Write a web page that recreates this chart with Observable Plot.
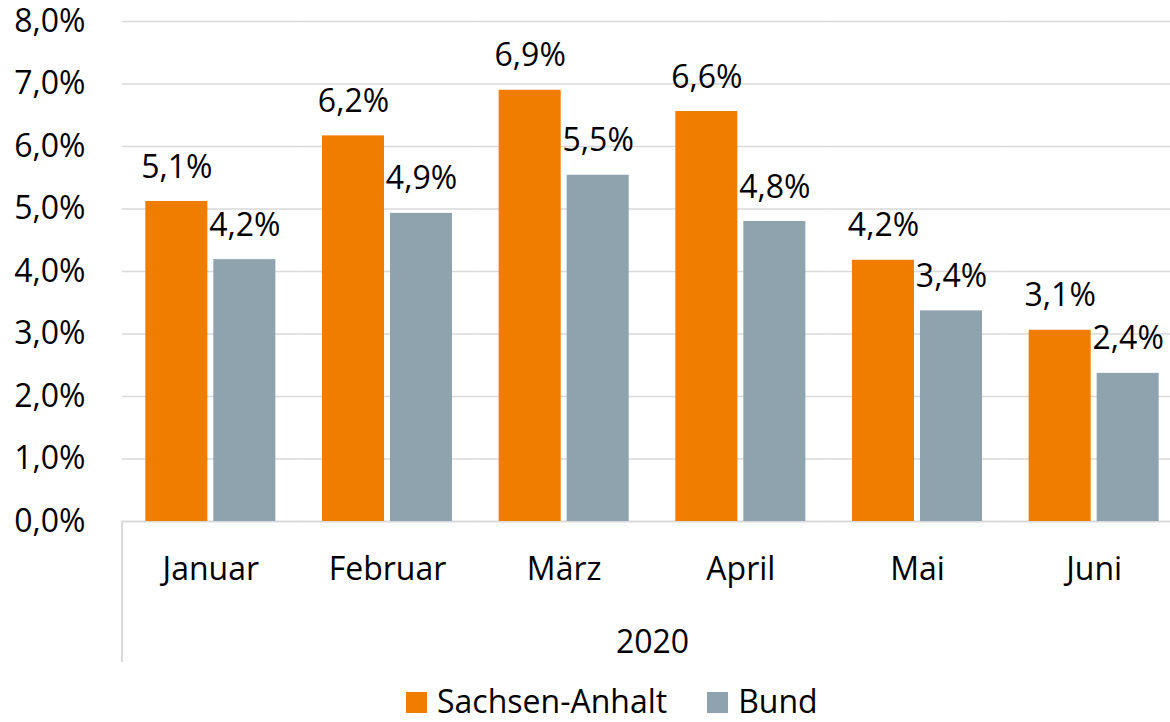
<!DOCTYPE html>
<html>
<head>
<meta charset="utf-8">
<script src="https://cdn.jsdelivr.net/npm/d3@7"></script>
<script src="https://cdn.jsdelivr.net/npm/@observablehq/plot@0.6"></script>
<style>
  html, body { margin: 0; padding: 0; background: #fff; overflow: hidden; }
  #chart { width: 1182px; height: 668px; padding-top: 4px; }
  #chart svg { overflow: visible; }
  .legend { display: flex; align-items: baseline; padding-left: 406px; margin-top: 13px;
            font-family: "Open Sans", sans-serif; font-size: 32px; line-height: 1; color: #000; }
  .legend .sw { width: 21px; height: 21px; display: inline-block; margin-right: 10px; }
  .legend .item { display: flex; align-items: baseline; margin-right: 40px; }
</style>
</head>
<body>
<div id="chart"></div>
<script>
const months = ["Januar", "Februar", "März", "April", "Mai", "Juni"];
const series = ["Sachsen-Anhalt", "Bund"];
const sachsenAnhalt = [5.12, 6.17, 6.90, 6.56, 4.18, 3.06];
const bund = [4.19, 4.93, 5.54, 4.80, 3.37, 2.37];
const yTicks = [0, 1, 2, 3, 4, 5, 6, 7, 8];
const yearLabel = "2020";
const colors = ["#F07D00", "#8FA3AF"];

const fmt = (d, digits) => d.toFixed(digits).replace(".", ",") + "%";

const data = [];
months.forEach((m, i) => {
  data.push({month: m, series: series[0], value: sachsenAnhalt[i]});
  data.push({month: m, series: series[1], value: bund[i]});
});

const plot = Plot.plot({
  width: 1182,
  height: 668,
  marginLeft: 122,
  marginRight: 0,
  marginTop: 17,
  marginBottom: 151,
  style: {fontFamily: "Open Sans, sans-serif", fontSize: "32px", color: "#000", background: "#fff", overflow: "visible"},
  fx: {domain: months, padding: 0, round: false, axis: "bottom", tickSize: 0, tickPadding: 36, label: null},
  x: {domain: series, paddingInner: 0.088, paddingOuter: 0.343, round: false, axis: null},
  y: {domain: [0, 8], ticks: yTicks, tickSize: 0, tickPadding: 37, tickFormat: d => fmt(d, 1), label: null},
  color: {domain: series, range: colors},
  marks: [
    Plot.ruleY(yTicks.filter(d => d > 0), {stroke: "#d9d9d9", strokeWidth: 1.5}),
    Plot.ruleY([0], {stroke: "#d9d9d9", strokeWidth: 2}),
    Plot.barY(data, {fx: "month", x: "series", y: "value", fill: "series"}),
    Plot.text(data, {fx: "month", x: "series", y: "value", text: d => fmt(d.value, 1),
      lineAnchor: "bottom", dy: -24, fontSize: 32, fill: "#000"}),
    Plot.text([{month: "März"}], {fx: "month", frameAnchor: "bottom-right", text: () => yearLabel,
      textAnchor: "middle", lineAnchor: "bottom", dy: 131, fontSize: 32, fill: "#000"})
  ]
});

// left boundary line of the category axis, positioned from the scales
const fxs = plot.scale("fx");
const ys = plot.scale("y");
const x0 = fxs.apply(months[0]);
const y0 = ys.apply(0);
d3.select(plot).append("line")
  .attr("x1", x0).attr("x2", x0)
  .attr("y1", y0).attr("y2", y0 + 141)
  .attr("stroke", "#d9d9d9").attr("stroke-width", 2);

document.getElementById("chart").appendChild(plot);

const legend = document.createElement("div");
legend.className = "legend";
series.forEach((s, i) => {
  const item = document.createElement("span");
  item.className = "item";
  const sw = document.createElement("span");
  sw.className = "sw";
  sw.style.background = colors[i];
  item.appendChild(sw);
  item.appendChild(document.createTextNode(s));
  legend.appendChild(item);
});
document.body.appendChild(legend);
</script>
</body>
</html>
